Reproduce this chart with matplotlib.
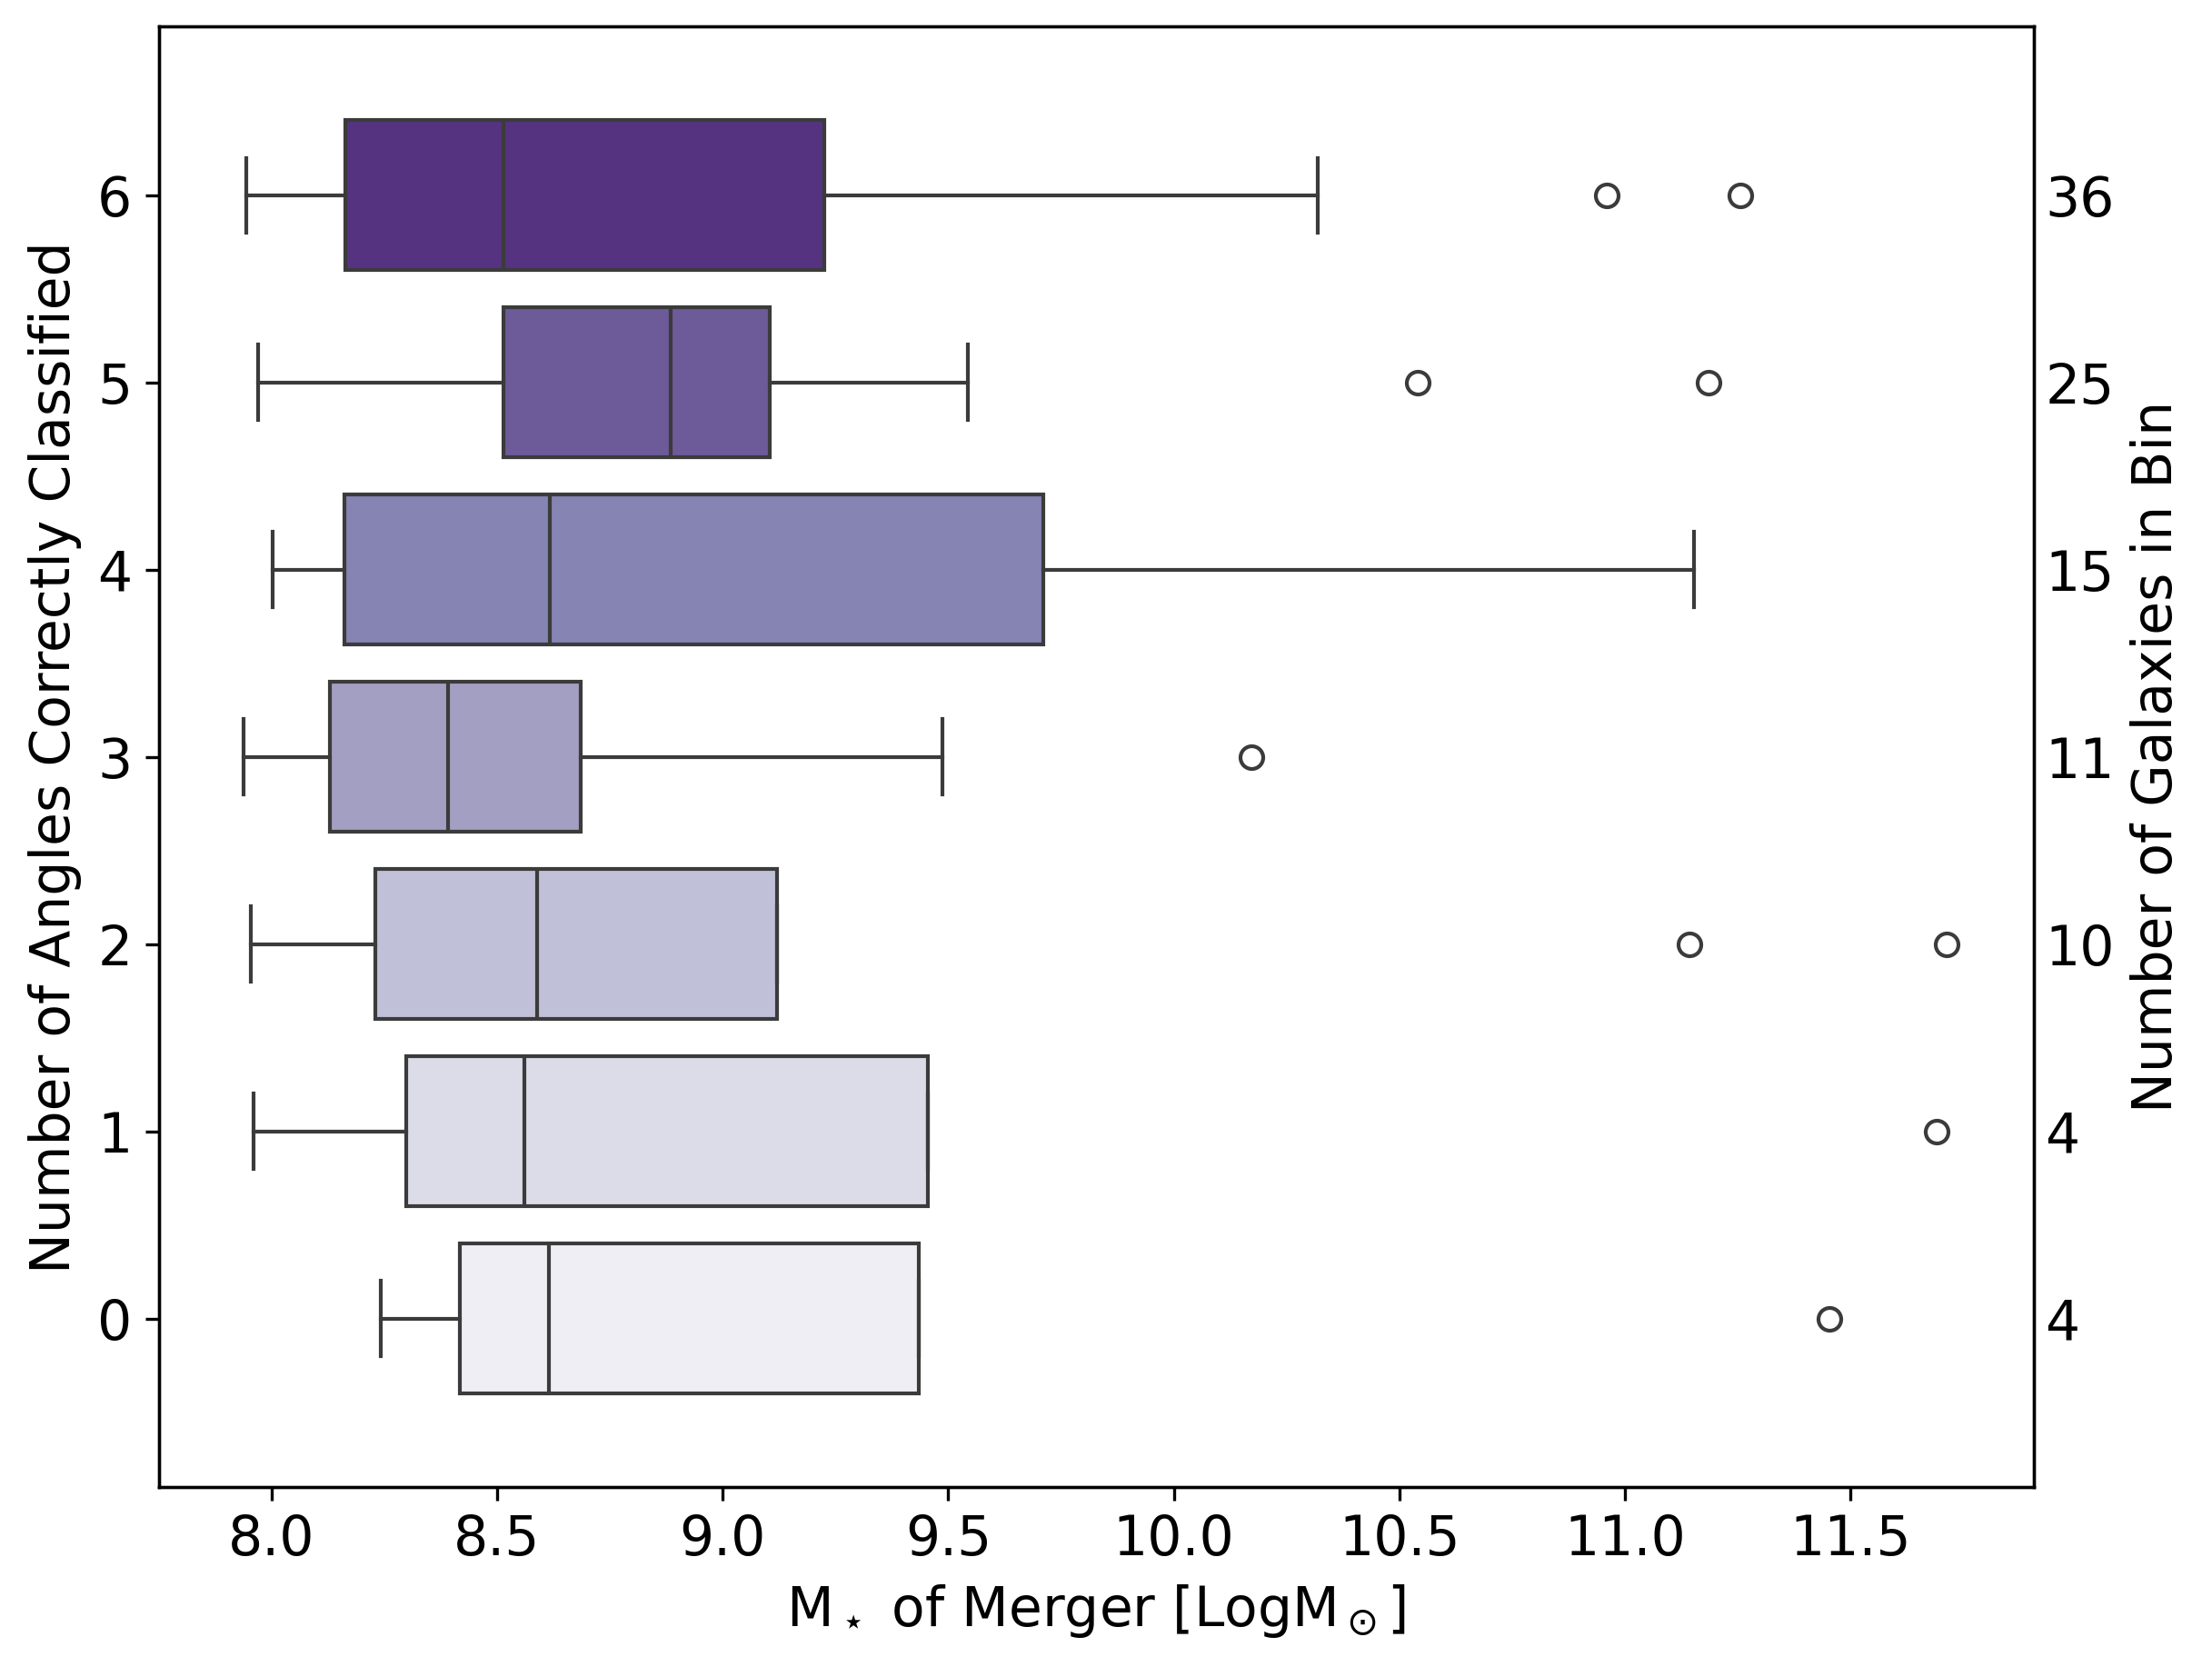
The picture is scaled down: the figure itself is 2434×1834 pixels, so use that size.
"""
Stellar mass of merger vs number of angles correctly classified
"""

import matplotlib
matplotlib.use('Agg')
import matplotlib.pyplot as plt
import numpy as np
import seaborn as sns

# box stats, one entry per bin (0..6 angles correct)
N_ANGLES = [0, 1, 2, 3, 4, 5, 6]
N_GALAXIES = [4, 4, 10, 11, 15, 25, 36]
WHISK_LO = [8.242, 7.961, 7.955, 7.939, 8.002, 7.970, 7.945]
Q1 = [8.417, 8.298, 8.230, 8.130, 8.161, 8.514, 8.164]
MEDIAN = [8.614, 8.561, 8.589, 8.392, 8.617, 8.885, 8.514]
Q3 = [9.435, 9.454, 9.120, 8.686, 9.710, 9.104, 9.226]
WHISK_HI = [9.435, 9.454, 9.120, 9.488, 11.153, 9.544, 10.319]
FLIERS = [
    [11.452],
    [11.690],
    [11.143, 11.712],
    [10.172],
    [],
    [10.541, 11.184],
    [10.959, 11.256],
]

LINE_COLOR = '#3b3b3b'
FS = 14.4
OUTFILE = 'out.png'


if __name__ in '__main__':
    plt.rcParams['font.family'] = ['DejaVu Sans']
    palette = sns.color_palette('Purples', len(N_ANGLES), desat=0.75)

    stats = []
    for i in range(len(N_ANGLES)):
        stats.append(dict(
            whislo=WHISK_LO[i], q1=Q1[i], med=MEDIAN[i], q3=Q3[i],
            whishi=WHISK_HI[i], fliers=np.array(FLIERS[i]),
        ))

    fig = plt.figure(figsize=(2434 / 300, 1834 / 300), dpi=300)
    ax = fig.add_axes([0.0717, 0.108, 0.9195 - 0.0717, 0.984 - 0.108])
    lw = 1.0
    art = ax.bxp(
        stats,
        positions=N_ANGLES,
        widths=0.8,
        capwidths=0.4,
        orientation='horizontal',
        patch_artist=True,
        boxprops=dict(edgecolor=LINE_COLOR, linewidth=lw),
        medianprops=dict(color=LINE_COLOR, linewidth=lw),
        whiskerprops=dict(color=LINE_COLOR, linewidth=lw),
        capprops=dict(color=LINE_COLOR, linewidth=lw),
        flierprops=dict(marker='o', markersize=6, markerfacecolor='none',
                        markeredgecolor=LINE_COLOR, markeredgewidth=1.0),
    )
    for patch, c in zip(art['boxes'], palette):
        patch.set_facecolor(c)

    ax.set_xlim(7.75, 11.906)
    ax.set_ylim(-0.9, 6.9)
    ax.set_yticks(N_ANGLES)
    ax.set_yticklabels([str(n) for n in N_ANGLES])
    ax.tick_params(labelsize=FS)
    ax.set_xlabel('M$_\\star$ of Merger [LogM$_\\odot$]', fontsize=FS)
    ax.set_ylabel('Number of Angles Correctly Classified', fontsize=FS)

    rax = ax.twinx()
    rax.set_ylim(ax.get_ylim())
    rax.set_yticks(N_ANGLES)
    rax.set_yticklabels([str(n) for n in N_GALAXIES])
    rax.tick_params(axis='y', length=0, pad=3, labelsize=FS)
    rax.set_ylabel('Number of Galaxies in Bin', fontsize=FS)

    fig.savefig(OUTFILE, dpi=300)
    plt.close('all')
